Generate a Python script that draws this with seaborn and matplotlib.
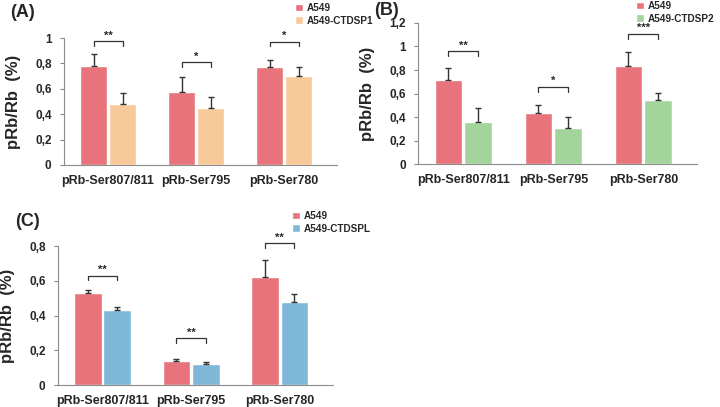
import numpy as np
import pandas as pd
import matplotlib.pyplot as plt
import seaborn as sns

sites = ['pRb-Ser807/811', 'pRb-Ser795', 'pRb-Ser780']

# panel A
a_ctrl = [0.78, 0.575, 0.77]
a_ctrl_err = [0.095, 0.115, 0.055]
a_ko = [0.48, 0.445, 0.70]
a_ko_err = [0.09, 0.09, 0.075]
a_stars = ['**', '*', '*']
a_bracket = [0.975, 0.81, 0.97]

# panel B
b_ctrl = [0.715, 0.43, 0.835]
b_ctrl_err = [0.10, 0.07, 0.12]
b_ko = [0.36, 0.31, 0.545]
b_ko_err = [0.115, 0.09, 0.06]
b_stars = ['**', '*', '***']
b_bracket = [0.96, 0.655, 1.11]

# panel C
c_ctrl = [0.53, 0.14, 0.62]
c_ctrl_err = [0.015, 0.01, 0.10]
c_ko = [0.43, 0.12, 0.48]
c_ko_err = [0.02, 0.01, 0.045]
c_stars = ['**', '**', '**']
c_bracket = [0.63, 0.27, 0.815]

red = '#E8737A'
colors = {'A': '#F8C999', 'B': '#A3D49C', 'C': '#7FB7D9'}
ko_names = {'A': 'A549-CTDSP1', 'B': 'A549-CTDSP2', 'C': 'A549-CTDSPL'}

sns.set_style('white')
plt.rcParams['font.family'] = ['Liberation Sans', 'DejaVu Sans']

fig = plt.figure(figsize=(7.2, 4.07), dpi=100)


def draw_panel(rect, key, ctrl, ctrl_err, ko, ko_err, stars, bracket, ymax, step,
               leg_xy, label_xy):
    ax = fig.add_axes(rect)
    name = ko_names[key]
    df = pd.DataFrame({
        'site': sites * 2,
        'group': ['A549'] * 3 + [name] * 3,
        'value': ctrl + ko,
    })
    sns.barplot(data=df, x='site', y='value', hue='group', ax=ax,
                palette=[red, colors[key]], width=0.66, gap=0.06,
                errorbar=None, saturation=1)
    errs = ctrl_err + ko_err
    bars = ax.patches[:6]
    xs = [b.get_x() + b.get_width() / 2 for b in bars]
    hs = [b.get_height() for b in bars]
    ax.errorbar(xs, hs, yerr=[np.zeros(6), errs], fmt='none', ecolor='#333333',
                elinewidth=1, capsize=2, capthick=1)
    tick = ymax * 0.035
    for i in range(3):
        x0, x1 = xs[i], xs[i + 3]
        y = bracket[i]
        ax.plot([x0, x0, x1, x1], [y - tick, y, y, y - tick], color='#333333',
                lw=0.9, clip_on=False)
        ax.text((x0 + x1) / 2, y + ymax * 0.005, stars[i], ha='center', va='bottom',
                fontsize=8, fontweight='bold', clip_on=False)
    ax.set_ylim(0, ymax)
    ax.set_xlim(-0.5, 2.6)
    yt = np.arange(0, ymax + 1e-9, step)
    ax.set_yticks(yt)
    ax.set_yticklabels([('%g' % v).replace('.', ',') for v in yt],
                       fontsize=8.5, fontweight='bold')
    ax.set_xticks(range(3))
    ax.set_xticklabels(sites, fontsize=9, fontweight='bold')
    ax.set_xticks([0.5, 1.5], minor=True)
    ax.tick_params(axis='x', which='major', length=0, pad=7)
    ax.tick_params(axis='x', which='minor', length=3, color='#888888')
    ax.tick_params(axis='y', length=3, left=True, color='#888888', pad=6)
    for s in ['top', 'right']:
        ax.spines[s].set_visible(False)
    for s in ['left', 'bottom']:
        ax.spines[s].set_color('#8c8c8c')
        ax.spines[s].set_linewidth(0.8)
    ax.set_xlabel('')
    ax.set_ylabel('pRb/Rb  (%)', fontsize=12, fontweight='bold', labelpad=10)
    handles, labels = ax.get_legend_handles_labels()
    ax.get_legend().remove()
    fig.legend(handles, labels, loc='upper left', bbox_to_anchor=leg_xy,
               frameon=False, prop={'size': 7.2, 'weight': 'bold'},
               handlelength=0.8, handleheight=0.8, handletextpad=0.4,
               labelspacing=0.25, borderpad=0, borderaxespad=0)
    fig.text(label_xy[0], label_xy[1], '(' + key + ')', fontsize=13,
             fontweight='bold', ha='left', va='top')
    return ax


draw_panel([0.089, 0.5946, 0.379, 0.312], 'A', a_ctrl, a_ctrl_err, a_ko, a_ko_err,
           a_stars, a_bracket, 1.0, 0.2, (295 / 720, 1 - 3 / 407), (10 / 720, 1 - 4 / 407))
draw_panel([0.581, 0.597, 0.3875, 0.3465], 'B', b_ctrl, b_ctrl_err, b_ko, b_ko_err,
           b_stars, b_bracket, 1.2, 0.2, (636 / 720, 1 - 1 / 407), (374 / 720, 1 - 2 / 407))
draw_panel([0.0806, 0.054, 0.382, 0.3415], 'C', c_ctrl, c_ctrl_err, c_ko, c_ko_err,
           c_stars, c_bracket, 0.8, 0.2, (292 / 720, 1 - 211 / 407), (15 / 720, 1 - 213 / 407))

fig.savefig('out.png', dpi=100)
